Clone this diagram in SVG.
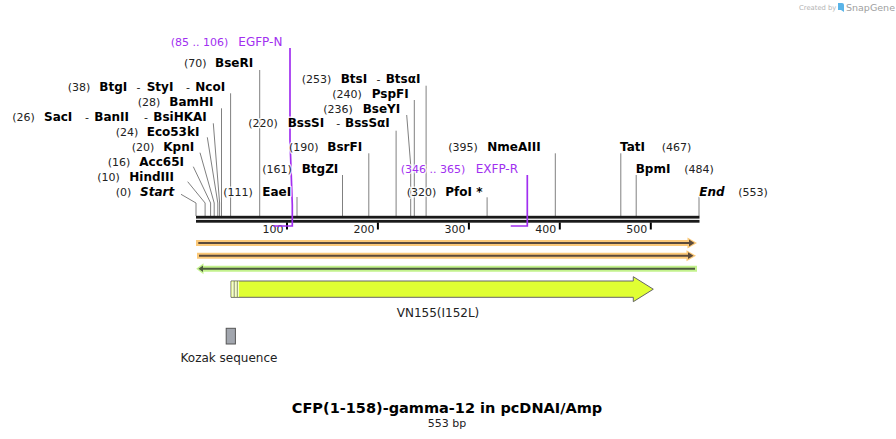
<svg xmlns="http://www.w3.org/2000/svg" width="896" height="439" viewBox="0 0 896 439">
<style>
text{font-family:"DejaVu Sans",Verdana,sans-serif}
.n{font-size:11px;fill:#222}
.b{font-size:12px;font-weight:bold;fill:#000}
.bi{font-size:12px;font-weight:bold;font-style:italic;fill:#000}
.p{fill:#a12ff0}
.pn{font-size:11px}
.pl{font-size:12px}
.h{paint-order:stroke;stroke:#fff;stroke-width:3;stroke-opacity:.75;stroke-linejoin:round}
.lead{stroke:#808080;stroke-width:1;fill:none}
.tick{stroke:#000;stroke-width:2}
.tl{font-size:11px;fill:#222;text-anchor:end}
.prim{stroke:#a12ff0;stroke-width:1.7;fill:none}
.oh{stroke:#fcc978;stroke-width:6;fill:none}
.ohf{fill:#fcc978}
.od{stroke:#5b4a3b;stroke-width:2;fill:none}
.odf{fill:#5b4a3b}
.gh{stroke:#c3f28d;stroke-width:6;fill:none}
.ghf{fill:#c3f28d}
.gd{stroke:#4c5a3e;stroke-width:2;fill:none}
.gdf{fill:#4c5a3e}
</style>
<rect width="896" height="439" fill="#fff"/>

<g id="logo">
<text x="799" y="10" font-size="6.8" fill="#b4b4b4">Created by</text>
<path d="M838,3 h4 a2,2 0 0 1 2,2 v7 l-3,-2 h-3 z" fill="#5ab4e8"/>
<text x="846" y="11" font-size="9.5" fill="#a0a0a0">SnapGene</text>
</g>

<!-- connectors: leader lines -->
<g id="connectors">
<polyline class="lead" points="181,194.3 196,203 196,216"/>
<polyline class="lead" points="187.7,181.7 205.1,203 205.1,216"/>
<polyline class="lead" points="193.3,166.7 210.6,203 210.6,216"/>
<polyline class="lead" points="200,152.7 214.2,203 214.2,216"/>
<polyline class="lead" points="207.3,137.3 217.8,203 217.8,216"/>
<polyline class="lead" points="213.3,123.3 219.6,203 219.6,216"/>
<line class="lead" x1="221.5" y1="108.3" x2="221.5" y2="216"/>
<line class="lead" x1="230.6" y1="93.3" x2="230.6" y2="216"/>
<line class="lead" x1="259.7" y1="70" x2="259.7" y2="216"/>
<line class="lead" x1="297" y1="197" x2="297" y2="216"/>
<line class="lead" x1="342.5" y1="175" x2="342.5" y2="216"/>
<line class="lead" x1="368.8" y1="153.3" x2="368.8" y2="216"/>
<line class="lead" x1="396.1" y1="130.7" x2="396.1" y2="216"/>
<polyline class="lead" points="406.7,115 410.7,165 410.7,216"/>
<line class="lead" x1="414.3" y1="100" x2="414.3" y2="216"/>
<line class="lead" x1="426.1" y1="85.7" x2="426.1" y2="216"/>
<line class="lead" x1="487.1" y1="197.3" x2="487.1" y2="216"/>
<line class="lead" x1="555.3" y1="153.3" x2="555.3" y2="216"/>
<line class="lead" x1="620.8" y1="153.3" x2="620.8" y2="216"/>
<line class="lead" x1="636.2" y1="175" x2="636.2" y2="216"/>
<line class="lead" x1="699" y1="196.7" x2="699" y2="216"/>
</g>

<!-- backbone -->
<g id="backbone">
<rect x="196" y="215.8" width="503.5" height="2.8" fill="#1a1a1a"/>
<rect x="196" y="219.9" width="503.5" height="2.8" fill="#1a1a1a"/>
<line class="tick" x1="287" y1="222.5" x2="287" y2="229.5"/>
<line class="tick" x1="377.9" y1="222.5" x2="377.9" y2="229.5"/>
<line class="tick" x1="468.9" y1="222.5" x2="468.9" y2="229.5"/>
<line class="tick" x1="559.8" y1="222.5" x2="559.8" y2="229.5"/>
<line class="tick" x1="650.8" y1="222.5" x2="650.8" y2="229.5"/>
<text class="tl" x="283.5" y="233">100</text>
<text class="tl" x="374.4" y="233">200</text>
<text class="tl" x="465.4" y="233">300</text>
<text class="tl" x="556.3" y="233">400</text>
<text class="tl" x="647.3" y="233">500</text>
</g>

<!-- primers -->
<g id="primer-EGFP-N">
<polyline class="prim" points="290,48 290,140 292.3,205 292.3,226 273.3,226"/>
<text class="p h" y="46"><tspan class="pn" x="170.7">(85 .. 106)</tspan><tspan class="pl" x="238.3">EGFP-N</tspan></text>
</g>
<g id="primer-EXFP-R">
<polyline class="prim" points="527.3,175 527.3,226 510.7,226"/>
<text class="p h" y="173"><tspan class="pn" x="400.7">(346 .. 365)</tspan><tspan class="pl" x="475.7">EXFP-R</tspan></text>
</g>

<!-- site labels -->
<g id="site-BseRI"><text class="h" y="67"><tspan class="n" x="184">(70)</tspan><tspan class="b" x="215">BseRI</tspan></text></g>
<g id="site-BtgI"><text class="h" y="91"><tspan class="n" x="67.7">(38)</tspan><tspan class="b" x="99.3">BtgI</tspan><tspan class="n" x="136.5">-</tspan><tspan class="b" x="146.7">StyI</tspan><tspan class="n" x="186">-</tspan><tspan class="b" x="195.3">NcoI</tspan></text></g>
<g id="site-BamHI"><text class="h" y="105.7"><tspan class="n" x="137.7">(28)</tspan><tspan class="b" x="169.3">BamHI</tspan></text></g>
<g id="site-SacI"><text class="h" y="121.3"><tspan class="n" x="12.3">(26)</tspan><tspan class="b" x="44">SacI</tspan><tspan class="n" x="85">-</tspan><tspan class="b" x="94.3">BanII</tspan><tspan class="n" x="144">-</tspan><tspan class="b" x="153.3">BsiHKAI</tspan></text></g>
<g id="site-Eco53kI"><text class="h" y="135.7"><tspan class="n" x="115.7">(24)</tspan><tspan class="b" x="146.7">Eco53kI</tspan></text></g>
<g id="site-KpnI"><text class="h" y="150.7"><tspan class="n" x="131.7">(20)</tspan><tspan class="b" x="163.3">KpnI</tspan></text></g>
<g id="site-Acc65I"><text class="h" y="166.3"><tspan class="n" x="107.7">(16)</tspan><tspan class="b" x="139.3">Acc65I</tspan></text></g>
<g id="site-HindIII"><text class="h" y="180.7"><tspan class="n" x="97.3">(10)</tspan><tspan class="b" x="129.3">HindIII</tspan></text></g>
<g id="site-Start"><text class="h" y="196.3"><tspan class="n" x="115.7">(0)</tspan><tspan class="bi" x="140">Start</tspan></text></g>
<g id="site-EaeI"><text class="h" y="195.7"><tspan class="n" x="223.3">(111)</tspan><tspan class="b" x="262.3">EaeI</tspan></text></g>
<g id="site-BtgZI"><text class="h" y="173.3"><tspan class="n" x="262.3">(161)</tspan><tspan class="b" x="301.7">BtgZI</tspan></text></g>
<g id="site-BsrFI"><text class="h" y="151.3"><tspan class="n" x="289">(190)</tspan><tspan class="b" x="327.3">BsrFI</tspan></text></g>
<g id="site-BssSI"><text class="h" y="127.3"><tspan class="n" x="248.3">(220)</tspan><tspan class="b" x="287.7">BssSI</tspan><tspan class="n" x="336.3">-</tspan><tspan class="b" x="345">BssSαI</tspan></text></g>
<g id="site-BseYI"><text class="h" y="113"><tspan class="n" x="323.3">(236)</tspan><tspan class="b" x="362.7">BseYI</tspan></text></g>
<g id="site-PspFI"><text class="h" y="98"><tspan class="n" x="332.3">(240)</tspan><tspan class="b" x="371.7">PspFI</tspan></text></g>
<g id="site-BtsI"><text class="h" y="82.7"><tspan class="n" x="301.7">(253)</tspan><tspan class="b" x="340.7">BtsI</tspan><tspan class="n" x="376.5">-</tspan><tspan class="b" x="385.7">BtsαI</tspan></text></g>
<g id="site-PfoI"><text class="h" y="195.7"><tspan class="n" x="406.7">(320)</tspan><tspan class="b" x="445.3">PfoI *</tspan></text></g>
<g id="site-NmeAIII"><text class="h" y="150.7"><tspan class="n" x="448.3">(395)</tspan><tspan class="b" x="487.3">NmeAIII</tspan></text></g>
<g id="site-TatI"><text class="h" y="150.7"><tspan class="b" x="620">TatI</tspan><tspan class="n" x="661.7">(467)</tspan></text></g>
<g id="site-BpmI"><text class="h" y="173.3"><tspan class="b" x="635.7">BpmI</tspan><tspan class="n" x="684.3">(484)</tspan></text></g>
<g id="site-End"><text class="h" y="195.7"><tspan class="bi" x="699.3">End</tspan><tspan class="n" x="738.3">(553)</tspan></text></g>

<!-- feature bars -->
<g id="feature-orange-1">
<line class="oh" x1="196" y1="243" x2="689" y2="243"/>
<polygon class="ohf" points="687.5,237.5 697,243 687.5,248.5"/>
<line class="od" x1="198.3" y1="243" x2="690" y2="243"/>
<polygon class="odf" points="689,239.6 694.5,243 689,246.4"/>
</g>
<g id="feature-orange-2">
<line class="oh" x1="197" y1="255.7" x2="688" y2="255.7"/>
<polygon class="ohf" points="686.5,250.2 696,255.7 686.5,261.2"/>
<line class="od" x1="199" y1="255.7" x2="689" y2="255.7"/>
<polygon class="odf" points="688,252.3 693.5,255.7 688,259.1"/>
</g>
<g id="feature-green">
<line class="gh" x1="202" y1="268.7" x2="697" y2="268.7"/>
<polygon class="ghf" points="196.2,268.7 203.5,263.2 203.5,274.2"/>
<line class="gd" x1="201" y1="268.7" x2="695" y2="268.7"/>
<polygon class="gdf" points="198.5,268.7 203,265.4 203,272"/>
</g>

<g id="feature-VN155">
<path d="M231,281 H633.3 V276.7 L653.3,289.2 L633.3,301.7 V297.3 H231 Z" fill="#e0ff33" stroke="#666" stroke-width="1"/>
<rect x="231.5" y="281.5" width="7.5" height="15.3" fill="#f6ffc8"/>
<line x1="234.2" y1="281.5" x2="234.2" y2="297" stroke="#222" stroke-width="1" stroke-dasharray="1,1"/>
<line x1="237.3" y1="281.5" x2="237.3" y2="297" stroke="#222" stroke-width="1" stroke-dasharray="1,1"/>
<text x="438" y="316.5" font-size="12" fill="#222" text-anchor="middle">VN155(I152L)</text>
</g>

<g id="feature-Kozak">
<rect x="226.2" y="328.3" width="9.2" height="15.7" fill="#a2a6ae" stroke="#555" stroke-width="1"/>
<text x="229" y="362" font-size="12" fill="#222" text-anchor="middle">Kozak sequence</text>
</g>

<g id="title">
<text x="447" y="413" font-size="14.5" font-weight="bold" fill="#000" text-anchor="middle">CFP(1-158)-gamma-12 in pcDNAI/Amp</text>
<text x="447" y="427" font-size="11" fill="#222" text-anchor="middle">553 bp</text>
</g>
</svg>
